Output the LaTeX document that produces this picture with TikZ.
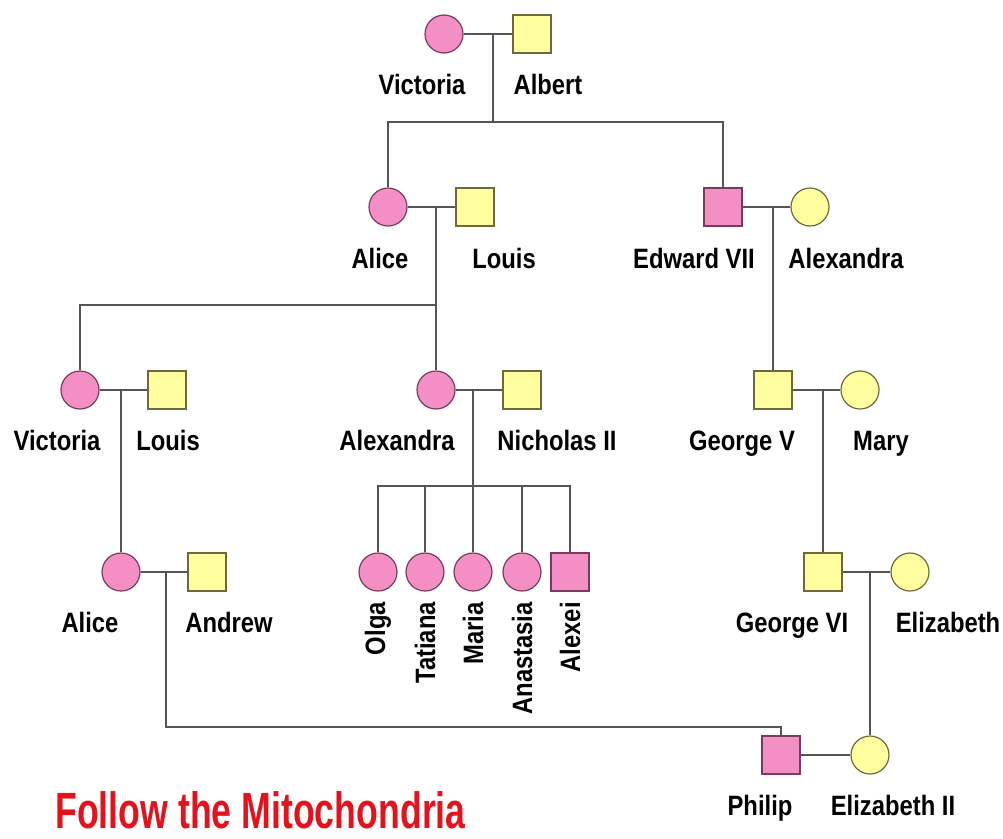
\documentclass[tikz,border=0pt]{standalone}
\usepackage{fontspec}
\newfontfamily\prenomfont{Liberation Sans}[FakeStretch=0.85]
\newfontfamily\titrefont{Liberation Sans}[FakeStretch=0.70]
\definecolor{rosefond}{RGB}{243,143,196}
\definecolor{rosebord}{RGB}{120,60,90}
\definecolor{jaunefond}{RGB}{255,255,160}
\definecolor{jaunebord}{RGB}{110,105,60}
\definecolor{trait}{RGB}{85,85,85}
\definecolor{rouge}{RGB}{228,18,28}
\tikzstyle{femme} = [circle, minimum size=38pt, inner sep=0pt, line width=1.2pt]
\tikzstyle{homme} = [rectangle, minimum size=38pt, inner sep=0pt, line width=1.2pt]
\tikzstyle{rose} = [fill=rosefond, draw=rosebord]
\tikzstyle{jaune} = [fill=jaunefond, draw=jaunebord]
\tikzstyle{prenom} = [font=\prenomfont\bfseries\fontsize{28}{28}\selectfont, inner sep=0pt, anchor=base]
\tikzstyle{lien} = [draw=trait, line width=1.5pt]
\tikzstyle{titre} = [font=\titrefont\bfseries\fontsize{51}{51}\selectfont, text=rouge, inner sep=0pt, anchor=base west]

\begin{document}
\begin{tikzpicture}[x=1pt, y=-1pt]
                \useasboundingbox (0,0) rectangle (1003,838);

                \node [femme, rose] (victoria) at (444,34) {};
                \node [homme, jaune] (albert) at (532,34) {};
                \node [prenom] (victorian) at (422,94) {Victoria};
                \node [prenom] (albertn) at (548,94) {Albert};

                \node [femme, rose] (alice) at (388,207) {};
                \node [homme, jaune] (louis) at (475,207) {};
                \node [prenom] (alicen) at (380,268) {Alice};
                \node [prenom] (louisn) at (504,268) {Louis};

                \node [homme, rose] (edward) at (723,207) {};
                \node [femme, jaune] (alexandra) at (810,207) {};
                \node [prenom] (edwardn) at (694,268) {Edward VII};
                \node [prenom] (alexandran) at (846,268) {Alexandra};

                \node [femme, rose] (victoriab) at (80,390) {};
                \node [homme, jaune] (louisb) at (167,390) {};
                \node [prenom] (victoriabn) at (57,450) {Victoria};
                \node [prenom] (louisbn) at (168,450) {Louis};

                \node [femme, rose] (alexandrab) at (436,390) {};
                \node [homme, jaune] (nicholas) at (522,390) {};
                \node [prenom] (alexandrabn) at (397,450) {Alexandra};
                \node [prenom] (nicholasn) at (557,450) {Nicholas II};

                \node [homme, jaune] (george) at (773,390) {};
                \node [femme, jaune] (mary) at (860,390) {};
                \node [prenom] (georgen) at (742,450) {George V};
                \node [prenom] (maryn) at (881,450) {Mary};

                \node [femme, rose] (aliceb) at (121,572) {};
                \node [homme, jaune] (andrew) at (207,572) {};
                \node [prenom] (alicebn) at (90,632) {Alice};
                \node [prenom] (andrewn) at (229,632) {Andrew};

                \node [femme, rose] (olga) at (378,572) {};
                \node [femme, rose] (tatiana) at (425,572) {};
                \node [femme, rose] (maria) at (473,572) {};
                \node [femme, rose] (anastasia) at (522,572) {};
                \node [homme, rose] (alexei) at (570,572) {};
                \node [prenom, rotate=90, anchor=east] (olgan) at (378,602) {Olga};
                \node [prenom, rotate=90, anchor=east] (tatianan) at (425,602) {Tatiana};
                \node [prenom, rotate=90, anchor=east] (marian) at (473,602) {Maria};
                \node [prenom, rotate=90, anchor=east] (anastasian) at (522,602) {Anastasia};
                \node [prenom, rotate=90, anchor=east] (alexein) at (570,602) {Alexei};

                \node [homme, jaune] (georgeb) at (823,572) {};
                \node [femme, jaune] (elizabeth) at (910,572) {};
                \node [prenom] (georgebn) at (792,632) {George VI};
                \node [prenom] (elizabethn) at (948,632) {Elizabeth};

                \node [homme, rose] (philip) at (781,755) {};
                \node [femme, jaune] (elizabethb) at (870,755) {};
                \node [prenom] (philipn) at (760,815) {Philip};
                \node [prenom] (elizabethbn) at (893,815) {Elizabeth II};

                \node [titre] (titre) at (55,828) {Follow the Mitochondria};

                \coordinate (m1) at (493,34);
                \coordinate (b1) at (493,122);
                \coordinate (m2) at (436,207);
                \coordinate (b2) at (436,305);
                \coordinate (m3) at (773,207);
                \coordinate (m4) at (121,390);
                \coordinate (m5) at (473,390);
                \coordinate (b5) at (473,486);
                \coordinate (m6) at (823,390);
                \coordinate (m7) at (166,572);
                \coordinate (b7) at (166,727);
                \coordinate (m8) at (870,572);

                \draw[lien] (victoria) -- (albert);
                \draw[lien] (m1) -- (b1);
                \draw[lien] (alice) |- (b1) -| (edward);

                \draw[lien] (alice) -- (louis);
                \draw[lien] (m2) -- (b2);
                \draw[lien] (victoriab) |- (b2) -- (alexandrab);

                \draw[lien] (edward) -- (alexandra);
                \draw[lien] (m3) -- (george);

                \draw[lien] (victoriab) -- (louisb);
                \draw[lien] (m4) -- (aliceb);

                \draw[lien] (alexandrab) -- (nicholas);
                \draw[lien] (m5) -- (b5);
                \draw[lien] (olga) |- (b5) -| (alexei);
                \draw[lien] (tatiana) -- (tatiana |- b5);
                \draw[lien] (maria) -- (b5);
                \draw[lien] (anastasia) -- (anastasia |- b5);

                \draw[lien] (george) -- (mary);
                \draw[lien] (m6) -- (georgeb);

                \draw[lien] (aliceb) -- (andrew);
                \draw[lien] (m7) -- (b7) -| (philip);

                \draw[lien] (georgeb) -- (elizabeth);
                \draw[lien] (m8) -- (elizabethb);

                \draw[lien] (philip) -- (elizabethb);
            \end{tikzpicture}
\end{document}
